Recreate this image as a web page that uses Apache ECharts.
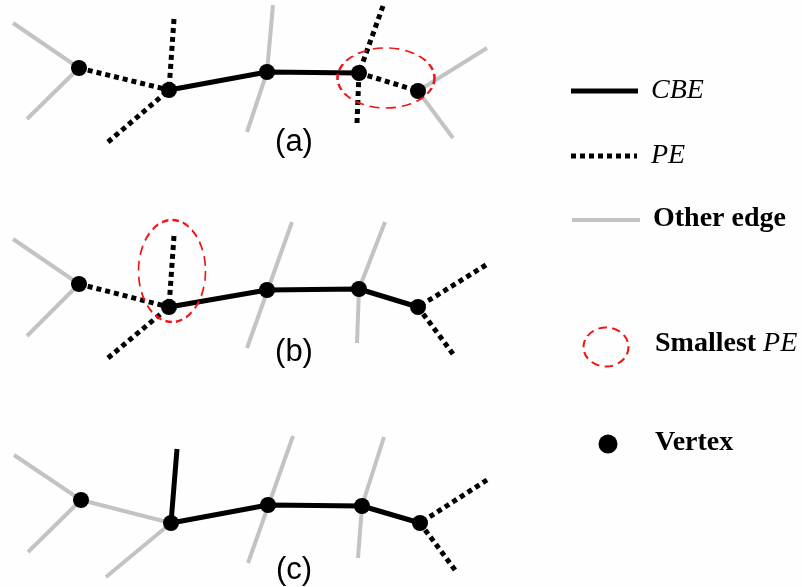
<!DOCTYPE html>
<html>
<head>
<meta charset="utf-8">
<script src="https://cdn.jsdelivr.net/npm/echarts@6/dist/echarts.min.js"></script>
<style>html,body{margin:0;padding:0;background:#fff}#c{width:802px;height:587px}</style>
</head>
<body>
<div id="c"></div>
<script>
// ---- Diagram data (coordinates in the picture's 802x587 frame, y downward) ----
const cbeEdges = [
  [[169,90],[267,72],[359,73]],
  [[169,307],[267,290],[359,289],[418,307]],
  [[177,449],[171,523],[268,505],[362,506],[420,523]]
];
const peEdges = [
  [[79,68],[169,90]], [[174,19],[169,90]], [[108,142],[169,90]],
  [[383,6],[359,73]], [[357,123],[359,73]], [[359,73],[418,91]],
  [[79,284],[169,307]], [[174,236],[169,307]], [[108,358],[169,307]],
  [[486,265],[418,307]], [[453,354],[418,307]],
  [[487,480],[420,523]], [[455,570],[420,523]]
];
const otherEdges = [
  [[13,23],[79,68],[27,119]], [[273,5],[267,72],[247,132]], [[487,48],[418,91],[453,138]],
  [[13,239],[79,284],[27,336]], [[292,222],[247,348]], [[385,222],[359,289],[357,343]],
  [[14,455],[81,500],[28,552]], [[81,500],[171,523],[106,577]], [[293,436],[248,563]], [[384,437],[362,506],[358,558]]
];
const vertices = [
  [79,68],[169,90],[267,72],[359,73],[418,91],
  [79,284],[169,307],[267,290],[359,289],[418,307],
  [81,500],[171,523],[268,505],[362,506],[420,523]
];
const smallestPE = [[386,78,97,60],[172,271,67,102]];
const panelNames = ['(a)','(b)','(c)'];
const panelPos = [[294,142],[294,352],[294,570]];

// legend
const legendCBE = [[[571,91],[638,91]]];
const legendPE = [[[571,156],[637,156]]];
const legendOther = [[[572,220],[640,220]]];
const legendEllipse = [[606,347,45,39]];
const legendVertex = [[608,444]];
const legendTexts = [
  [651,91,'{i|CBE}'],
  [651,156,'{i|PE}'],
  [653,219,'{b|Other edge}'],
  [655,344,'{b|Smallest }{i|PE}'],
  [655,443,'{b|Vertex}']
];

const rich = {
  i:{fontFamily:'Liberation Serif',fontStyle:'italic',fontSize:28,color:'#000'},
  b:{fontFamily:'Liberation Serif',fontWeight:'bold',fontSize:28,color:'#000'}
};
const solidStyle = {color:'#000',width:5,cap:'butt',join:'round',opacity:1};
const dotStyle = {color:'#000',width:5,type:[5,4],cap:'butt',opacity:1};
const grayStyle = {color:'#c3c3c3',width:4,cap:'butt',join:'miter',opacity:1};
const ellStyle = {color:'rgba(0,0,0,0)',borderColor:'#f01414',borderWidth:2,borderType:[8,5],opacity:1};
const noEmph = {disabled:true};

const chart = echarts.init(document.getElementById('c'));
chart.setOption({
  animation:false,
  backgroundColor:'#fefefe',
  grid:{left:0,right:0,top:0,bottom:0},
  xAxis:{type:'value',min:0,max:802,show:false},
  yAxis:{type:'value',min:0,max:587,inverse:true,show:false},
  series:[
    {type:'lines',coordinateSystem:'cartesian2d',polyline:true,lineStyle:grayStyle,z:1,emphasis:noEmph,
     data:otherEdges.concat(legendOther).map(c=>({coords:c}))},
    {type:'lines',coordinateSystem:'cartesian2d',polyline:true,lineStyle:dotStyle,z:2,emphasis:noEmph,
     data:peEdges.concat(legendPE).map(c=>({coords:c}))},
    {type:'lines',coordinateSystem:'cartesian2d',polyline:true,lineStyle:solidStyle,z:3,emphasis:noEmph,
     data:cbeEdges.concat(legendCBE).map(c=>({coords:c}))},
    {type:'scatter',symbol:'circle',symbolSize:16,itemStyle:{color:'#000',opacity:1},z:4,emphasis:noEmph,data:vertices},
    {type:'scatter',symbol:'circle',symbolSize:19,itemStyle:{color:'#000',opacity:1},z:4,emphasis:noEmph,data:legendVertex},
    {type:'scatter',symbol:'circle',z:5,itemStyle:ellStyle,emphasis:noEmph,
     data:smallestPE.concat(legendEllipse).map(e=>({value:[e[0],e[1]],symbolSize:[e[2],e[3]]}))},
    {type:'scatter',symbolSize:0,z:6,itemStyle:{opacity:1},emphasis:noEmph,
     data:panelNames.map((n,k)=>({value:panelPos[k],name:n})),
     label:{show:true,position:'inside',formatter:p=>p.name,fontFamily:'Liberation Sans',fontSize:31,color:'#000'}},
    {type:'scatter',symbolSize:0,z:6,itemStyle:{opacity:1},emphasis:noEmph,
     data:legendTexts.map(t=>({value:[t[0],t[1]],name:t[2]})),
     label:{show:true,position:'inside',align:'left',verticalAlign:'middle',formatter:p=>p.name,rich:rich}}
  ]
});
</script>
</body>
</html>
